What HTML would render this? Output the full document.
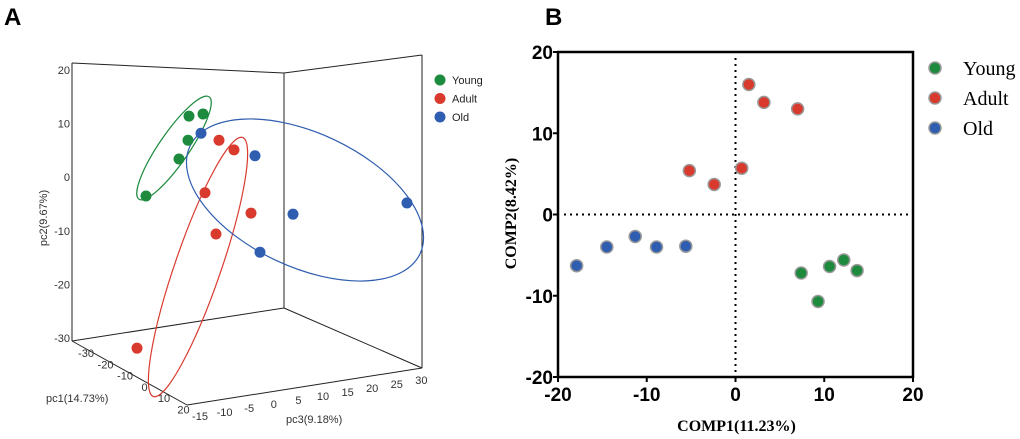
<!DOCTYPE html>
<html><head><meta charset="utf-8"><style>
body{margin:0;background:#fff;width:1020px;height:439px;overflow:hidden}
svg{position:absolute;left:0;top:0}
</style></head><body>
<svg id="s" width="1020" height="439" xmlns="http://www.w3.org/2000/svg">
<text x="4" y="25" font-family="Liberation Sans, sans-serif" font-weight="bold" font-size="24">A</text>
<text x="545" y="25" font-family="Liberation Sans, sans-serif" font-weight="bold" font-size="24">B</text>
<g id="gA"></g>
<g id="gB"></g>
</svg>
<script>
// Panel A data (projected: u horizontal, pc2 vertical)
const youngU=[11.7,13.1,11.6,10.7,7.4];
const youngPC2=[11.4,11.8,6.9,3.4,-3.5];
const adultU=[14.7,16.2,13.3,17.9,14.4,6.5];
const adultPC2=[6.9,5.1,-2.9,-6.7,-10.6,-31.9];
const oldU=[12.9,18.3,22.1,33.5,18.8];
const oldPC2=[8.2,4.0,-6.9,-4.8,-14.0];
const pc2Ticks=[20,10,0,-10,-20,-30];
const pc1Ticks=["-30","-20","-10","0","10","20"];
const pc3Ticks=["-15","-10","-5","0","5","10","15","20","25","30"];
// Panel B data
const bYoungX=[7.4,10.6,12.2,13.7,9.3];
const bYoungY=[-7.2,-6.4,-5.6,-6.9,-10.7];
const bAdultX=[1.5,3.2,7,0.7,-5.2,-2.4];
const bAdultY=[16,13.8,13,5.7,5.4,3.7];
const bOldX=[-17.9,-14.5,-11.3,-8.9,-5.6];
const bOldY=[-6.3,-4,-2.7,-4,-3.9];
const bTicks=[-20,-10,0,10,20];
const groups=["Young","Adult","Old"];
const colors=["#1e8a3e","#d93a2e","#2f5db0"];

const NS="http://www.w3.org/2000/svg";
function mk(p,t,a,txt){const e=document.createElementNS(NS,t);for(const k in a)e.setAttribute(k,a[k]);if(txt!==undefined)e.textContent=txt;p.appendChild(e);return e;}
const gA=document.getElementById('gA'),gB=document.getElementById('gB');
const ax=u=>72+u*10, ay=v=>70+(20-v)*5.36;
const SA="Liberation Sans, sans-serif";
// box
[[72,63,72,341],[72,63,284,73],[284,73,284,308],[284,73,422,55],[422,55,422,368],[72,341,284,308],[284,308,422,368],[72,341,187,405],[187,405,422,368]].forEach(l=>{
const e=mk(gA,'line',{x1:l[0],y1:l[1],x2:l[2],y2:l[3],stroke:'#222','stroke-width':1});

});
pc2Ticks.forEach(v=>{const e=mk(gA,'text',{x:70,y:ay(v)+4,'text-anchor':'end','font-family':SA,'font-size':11,fill:'#333'},String(v));

});
pc1Ticks.forEach((t,i)=>{const e=mk(gA,'text',{x:86+i*19.5,y:357+i*11.3,'text-anchor':'middle','font-family':SA,'font-size':11,fill:'#333'},t);

});
pc3Ticks.forEach((t,i)=>{const e=mk(gA,'text',{x:200+i*24.6,y:420-i*4,'text-anchor':'middle','font-family':SA,'font-size':11,fill:'#333'},t);

});
let t=mk(gA,'text',{x:0,y:0,transform:'translate(47,218) rotate(-90)','text-anchor':'middle','font-family':SA,'font-size':11,fill:'#333'},'pc2(9.67%)');

t=mk(gA,'text',{x:46,y:402,'font-family':SA,'font-size':11,fill:'#333'},'pc1(14.73%)');

t=mk(gA,'text',{x:286,y:423,'font-family':SA,'font-size':11,fill:'#333'},'pc3(9.18%)');

// ellipses
[[174,148,62,15,-55.5,colors[0]],[198,267,137,23,-71,colors[1]],[305,200,127,67,25,colors[2]]].forEach((c,i)=>{
const e=mk(gA,'ellipse',{cx:0,cy:0,rx:c[2],ry:c[3],transform:`translate(${c[0]},${c[1]}) rotate(${c[4]})`,fill:'none',stroke:c[5],'stroke-width':1.2});

});
[[youngU,youngPC2],[adultU,adultPC2],[oldU,oldPC2]].forEach((d,g)=>{d[0].forEach((u,i)=>{
const e=mk(gA,'circle',{cx:ax(u),cy:ay(d[1][i]),r:5.5,fill:colors[g]});

});});
groups.forEach((gname,i)=>{const c=mk(gA,'circle',{cx:440,cy:80+i*18.5,r:5.5,fill:colors[i]});

const e=mk(gA,'text',{x:452,y:84+i*18.5,'font-family':SA,'font-size':11,fill:'#222'},gname);
});

// Panel B
const L=558,R=913,T=52,B=377;
const bx=v=>L+(v+20)/40*(R-L), by=v=>B-(v+20)/40*(B-T);
let r=mk(gB,'rect',{x:L,y:T,width:R-L,height:B-T,fill:'none',stroke:'#000','stroke-width':2.5});

let d=mk(gB,'line',{x1:L+6,y1:by(0),x2:R,y2:by(0),stroke:'#000','stroke-width':2,'stroke-dasharray':'2 4'});

d=mk(gB,'line',{x1:bx(0),y1:T+6,x2:bx(0),y2:B,stroke:'#000','stroke-width':2,'stroke-dasharray':'2 4'});

bTicks.forEach(v=>{
let e=mk(gB,'line',{x1:bx(v),y1:B,x2:bx(v),y2:B+5,stroke:'#000','stroke-width':2});

e=mk(gB,'text',{x:bx(v),y:B+24,'text-anchor':'middle','font-family':SA,'font-weight':'bold','font-size':19},String(v));

e=mk(gB,'line',{x1:L-5,y1:by(v),x2:L,y2:by(v),stroke:'#000','stroke-width':2});

e=mk(gB,'text',{x:L-5,y:by(v)+7,'text-anchor':'end','font-family':SA,'font-weight':'bold','font-size':19},String(v));
});
t=mk(gB,'text',{x:bx(0)+1,y:431,'text-anchor':'middle','font-family':'Liberation Serif, serif','font-weight':'bold','font-size':16},'COMP1(11.23%)');

t=mk(gB,'text',{x:0,y:0,transform:`translate(516,${by(0)-1}) rotate(-90)`,'text-anchor':'middle','font-family':'Liberation Serif, serif','font-weight':'bold','font-size':16},'COMP2(8.42%)');

[[bYoungX,bYoungY],[bAdultX,bAdultY],[bOldX,bOldY]].forEach((dd,g)=>{dd[0].forEach((x,i)=>{
const e=mk(gB,'circle',{cx:bx(x),cy:by(dd[1][i]),r:6,fill:colors[g],stroke:'#999','stroke-width':1.5});

});});
groups.forEach((gname,i)=>{const c=mk(gB,'circle',{cx:935,cy:68+i*30,r:6,fill:colors[i],stroke:'#999','stroke-width':1.5});

const e=mk(gB,'text',{x:963,y:75+i*30,'font-family':'Liberation Serif, serif','font-size':20},gname);
});
</script>
</body></html>
